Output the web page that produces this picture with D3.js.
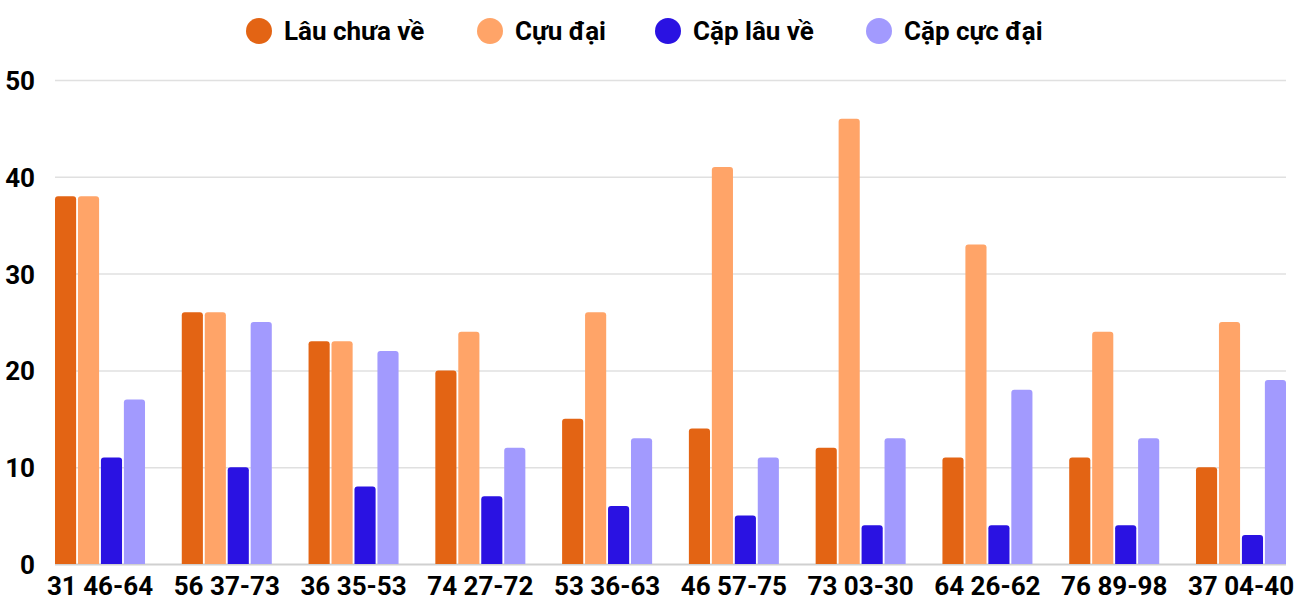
<!DOCTYPE html>
<html>
<head>
<meta charset="utf-8">
<script src="https://cdn.jsdelivr.net/npm/d3@7"></script>
<style>
  body { margin: 0; background: #fff; }
  text { font-family: Roboto, "Noto Sans", sans-serif; font-weight: bold; fill: #000; }
</style>
</head>
<body>
<div id="chart"></div>
<script>
// chart data
let categories = ["31 46-64", "56 37-73", "36 35-53", "74 27-72", "53 36-63",
                  "46 57-75", "73 03-30", "64 26-62", "76 89-98", "37 04-40"];
let series_names = ["Lâu chưa về", "Cựu đại", "Cặp lâu về", "Cặp cực đại"];
let lau_chua_ve = [38, 26, 23, 20, 15, 14, 12, 11, 11, 10];
let cuu_dai = [38, 26, 23, 24, 26, 41, 46, 33, 24, 25];
let cap_lau_ve = [11, 10, 8, 7, 6, 5, 4, 4, 4, 3];
let cap_cuc_dai = [17, 25, 22, 12, 13, 11, 13, 18, 13, 19];
let y_ticks = [0, 10, 20, 30, 40, 50];

let colors = ["#E36414", "#FFA468", "#2A12E2", "#A29AFE"];
let all_series = [lau_chua_ve, cuu_dai, cap_lau_ve, cap_cuc_dai];

let width = 1300, height = 600;
let plot_left = 55, plot_right = 1286, plot_top = 80, plot_bottom = 564;

let svg = d3.select("#chart")
    .append("svg")
    .attr("width", width)
    .attr("height", height);

let x = d3.scaleBand()
    .domain(categories)
    .range([plot_left, plot_right])
    .paddingInner(0.29)
    .paddingOuter(0);

let x_inner = d3.scaleBand()
    .domain(d3.range(series_names.length))
    .range([0, x.bandwidth()])
    .paddingInner(0.08);

let y = d3.scaleLinear()
    .domain([0, 50])
    .range([plot_bottom, plot_top]);

// grid
svg.append("g")
    .selectAll("line")
    .data(y_ticks)
    .join("line")
    .attr("x1", plot_left)
    .attr("x2", plot_right)
    .attr("y1", d => y(d) + 0.5)
    .attr("y2", d => y(d) + 0.5)
    .attr("stroke", d => d == 0 ? "#d0d0d0" : "#e0e0e0")
    .attr("stroke-width", d => d == 0 ? 2 : 1.5);

// y labels
svg.append("g")
    .selectAll("text")
    .data(y_ticks)
    .join("text")
    .attr("x", 35)
    .attr("y", d => y(d) + 10)
    .attr("text-anchor", "end")
    .attr("font-size", 26)
    .text(d => d);

function bar_path(x0, y0, w, h, r) {
    r = Math.min(r, h, w / 2);
    return `M${x0},${y0 + h}V${y0 + r}Q${x0},${y0} ${x0 + r},${y0}` +
           `H${x0 + w - r}Q${x0 + w},${y0} ${x0 + w},${y0 + r}V${y0 + h}Z`;
}

// bars
for (let s = 0; s < all_series.length; s++) {
    svg.append("g")
        .selectAll("path")
        .data(all_series[s])
        .join("path")
        .attr("fill", colors[s])
        .attr("d", (d, i) => bar_path(x(categories[i]) + x_inner(s), y(d),
                                      x_inner.bandwidth(), y(0) - y(d), 3));
}

// x labels
svg.append("g")
    .selectAll("text")
    .data(categories)
    .join("text")
    .attr("x", d => x(d) + x.bandwidth() / 2)
    .attr("y", 595)
    .attr("text-anchor", "middle")
    .attr("font-size", 26)
    .text(d => d);

// legend
let legend_x = [259, 490, 668, 879];
let legend = svg.append("g")
    .selectAll("g")
    .data(series_names)
    .join("g")
    .attr("transform", (d, i) => `translate(${legend_x[i]},31)`);

legend.append("circle")
    .attr("r", 13)
    .attr("fill", (d, i) => colors[i]);

legend.append("text")
    .attr("x", 25)
    .attr("y", 9)
    .attr("font-size", 26)
    .text(d => d);
</script>
</body>
</html>
